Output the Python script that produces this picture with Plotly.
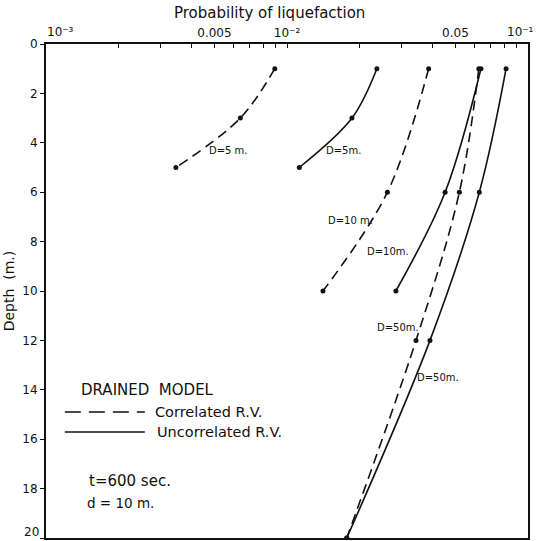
import plotly.graph_objects as go

# Depth of the evaluation points (m)
depth_5 = [1, 3, 5]
depth_10 = [1, 6, 10]
depth_50 = [1, 6, 12, 20]

# Probability of liquefaction, correlated random variables
p_corr_5 = [0.0089, 0.0064, 0.00346]
p_corr_10 = [0.0387, 0.0261, 0.0141]
p_corr_50 = [0.0625, 0.0519, 0.0343, 0.0177]

# Probability of liquefaction, uncorrelated random variables
p_unc_5 = [0.0236, 0.0186, 0.01125]
p_unc_10 = [0.0638, 0.0453, 0.0283]
p_unc_50 = [0.0811, 0.0628, 0.0392, 0.0177]

x_tick_vals = [0.005, 0.01, 0.05]
x_tick_text = ["0.005", "10\u207b\u00b2", "0.05"]
x_start_label = "10\u207b\u00b3"
x_end_label = "10\u207b\u00b9"
y_tick_vals = list(range(0, 19, 2))
y_end_label = "20"

FONT = "DejaVu Sans"
INK = "#111111"

fig = go.Figure()

series = [
    (p_corr_5, depth_5, "dash"),
    (p_corr_10, depth_10, "dash"),
    (p_corr_50, depth_50, "dash"),
    (p_unc_5, depth_5, "solid"),
    (p_unc_10, depth_10, "solid"),
    (p_unc_50, depth_50, "solid"),
]
for xs, ys, style in series:
    fig.add_trace(go.Scatter(
        x=xs, y=ys, mode="lines+markers",
        line=dict(color=INK, width=1.6, shape="spline", smoothing=1.0,
                  dash="10px,6px" if style == "dash" else "solid"),
        marker=dict(color=INK, size=5),
        showlegend=False, hoverinfo="skip",
    ))

# unlabelled ticks at every integer multiple within each decade
minor_vals = []
for base in (0.001, 0.01):
    for m in range(2, 10):
        v = base * m
        if all(abs(v - t) / t > 1e-6 for t in x_tick_vals):
            minor_vals.append(v)

fig.update_xaxes(
    type="log", range=[-3, -1], side="top", automargin=False,
    tickvals=x_tick_vals, ticktext=x_tick_text,
    ticks="inside", ticklen=4, tickwidth=1, tickcolor=INK,
    minor=dict(tickvals=minor_vals, ticks="inside", ticklen=4, tickwidth=1,
               tickcolor=INK, showgrid=False),
    showline=True, linecolor=INK, linewidth=2, mirror=True,
    showgrid=False, zeroline=False,
    tickfont=dict(family=FONT, size=12, color=INK),
)
fig.update_yaxes(
    range=[20, 0], tickvals=y_tick_vals, automargin=False,
    ticks="outside", ticklen=4, tickwidth=1, tickcolor=INK,
    minor=dict(tickvals=[20], ticks="outside", ticklen=4, tickwidth=1,
               tickcolor=INK, showgrid=False),
    showline=True, linecolor=INK, linewidth=2, mirror=True,
    showgrid=False, zeroline=False,
    tickfont=dict(family=FONT, size=12, color=INK),
    title=dict(text="Depth  (m.)", font=dict(family=FONT, size=14, color=INK),
               standoff=4),
)

# corner labels kept clear of each other and inside the page edges
fig.add_annotation(text=x_start_label, x=-0.002, y=1.0,
                   xref="paper", yref="paper", xanchor="left", yanchor="bottom",
                   yshift=3, showarrow=False,
                   font=dict(family=FONT, size=12, color=INK))
fig.add_annotation(text=x_end_label, x=1.0165, y=1.0,
                   xref="paper", yref="paper", xanchor="right", yanchor="bottom",
                   yshift=3, showarrow=False,
                   font=dict(family=FONT, size=12, color=INK))
fig.add_annotation(text=y_end_label, x=0.0, y=0.0,
                   xref="paper", yref="paper", xanchor="right", yanchor="bottom",
                   xshift=-5, yshift=-3, showarrow=False,
                   font=dict(family=FONT, size=12, color=INK))

# axis title on top
fig.add_annotation(text="Probability of liquefaction", x=0.463, y=1.063,
                   xref="paper", yref="paper", xanchor="center", yanchor="middle",
                   showarrow=False, font=dict(family=FONT, size=15, color=INK))

# curve labels
curve_labels = [
    ("D=5 m.", 0.378, 0.785),
    ("D=5m.", 0.618, 0.785),
    ("D=10 m.", 0.631, 0.642),
    ("D=10m.", 0.71, 0.579),
    ("D=50m.", 0.730, 0.427),
    ("D=50m.", 0.813, 0.324),
]
for txt, px, py in curve_labels:
    fig.add_annotation(text=txt, x=px, y=py, xref="paper", yref="paper",
                       xanchor="center", yanchor="middle", showarrow=False,
                       font=dict(family=FONT, size=10, color=INK))

# key
fig.add_shape(type="line", xref="paper", yref="paper", x0=0.039, x1=0.205,
              y0=0.255, y1=0.255, line=dict(color=INK, width=1.6, dash="16px,8px"))
fig.add_shape(type="line", xref="paper", yref="paper", x0=0.039, x1=0.205,
              y0=0.2146, y1=0.2146, line=dict(color=INK, width=1.6))
key_text = [
    ("DRAINED  MODEL", 0.068, 0.2996, 15),
    ("Correlated R.V.", 0.222, 0.255, 14.5),
    ("Uncorrelated R.V.", 0.226, 0.2146, 14.5),
    ("t=600 sec.", 0.085, 0.115, 15),
    ("d = 10 m.", 0.081, 0.071, 13.5),
]
for txt, px, py, sz in key_text:
    fig.add_annotation(text=txt, x=px, y=py, xref="paper", yref="paper",
                       xanchor="left", yanchor="middle", showarrow=False,
                       font=dict(family=FONT, size=sz, color=INK))

fig.update_layout(
    width=537, height=541,
    margin=dict(l=46, r=9, t=44, b=3),
    paper_bgcolor="white", plot_bgcolor="white",
)

fig.write_html("out.html")
